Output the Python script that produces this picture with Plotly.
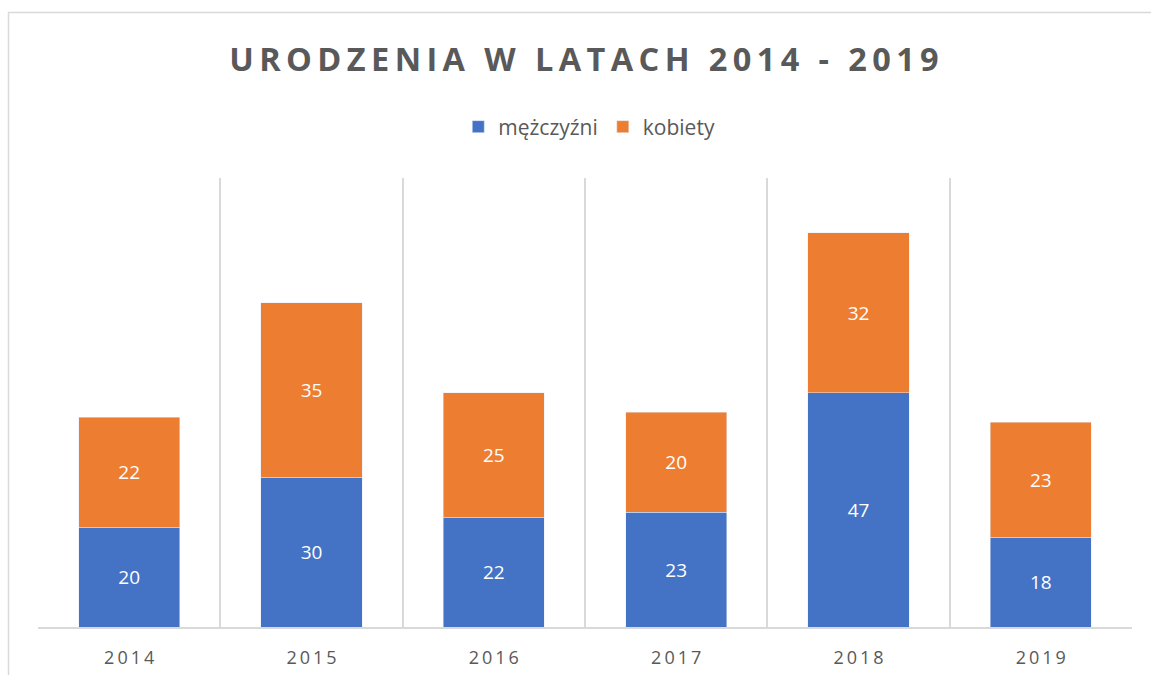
import plotly.graph_objects as go

years = ["2014", "2015", "2016", "2017", "2018", "2019"]
men = [20, 30, 22, 23, 47, 18]
women = [22, 35, 25, 20, 32, 23]
title_text = "URODZENIA W LATACH 2014 - 2019"
series_names = ["mężczyźni", "kobiety"]

W, H = 1151, 675
L, T = 38, 178
pw, ph = 1094, 449
R = W - L - pw
B = H - T - ph

def spaced(s, sp="\u2009"):
    return sp.join(list(s))

fig = go.Figure()
fig.add_trace(go.Bar(x=years, y=men, name=series_names[0], marker_color="#4472C4",
                     text=men, textposition="inside", insidetextanchor="middle",
                     textfont=dict(color="white", size=19, family="Open Sans")))
fig.add_trace(go.Bar(x=years, y=women, name=series_names[1], marker_color="#ED7D31",
                     text=women, textposition="inside", insidetextanchor="middle",
                     textfont=dict(color="white", size=19, family="Open Sans")))

def px2paper_x(px):
    return (px - L) / pw
def px2paper_y(py):
    return (T + ph - py) / ph

fig.add_shape(type="rect", xref="paper", yref="paper",
              x0=px2paper_x(8.5), x1=px2paper_x(1170), y0=px2paper_y(720), y1=px2paper_y(12.5),
              line=dict(color="#d9d9d9", width=1.5), fillcolor="rgba(0,0,0,0)", layer="below")

fig.update_layout(
    width=W, height=H, barmode="stack", bargap=0.445,
    margin=dict(l=L, r=R, t=T, b=B, autoexpand=False),
    paper_bgcolor="white", plot_bgcolor="white",
    title=dict(text=spaced(title_text, "\u2009"), x=584 / W, xanchor="center",
               y=1 - 60 / H, yanchor="middle",
               font=dict(family="Open Sans", size=32.5, color="#595959", weight="bold")),
    legend=dict(orientation="h", x=580 / W, xanchor="center", y=1 - 127 / H,
                yref="container", yanchor="middle",
                font=dict(family="Open Sans", size=21, color="#595959"), itemwidth=30,
                traceorder="normal"),
    font=dict(family="Open Sans", color="#595959"),
)
fig.update_xaxes(type="category", tickson="boundaries", showgrid=True, gridcolor="#d9d9d9", gridwidth=1.5,
                 showline=True, linecolor="#d9d9d9", linewidth=1.5, ticks="",
                 tickmode="array", tickvals=years, ticktext=[spaced(y) for y in years],
                 ticklabelstandoff=14, automargin=False,
                 tickfont=dict(family="Open Sans", size=18, color="#595959"))
fig.update_yaxes(range=[0, 90], showgrid=False, showticklabels=False, zeroline=False, showline=False)

fig.write_html("out.html", config={"displayModeBar": False},
               post_script="document.body.style.margin='0px';document.body.style.overflow='hidden';")
